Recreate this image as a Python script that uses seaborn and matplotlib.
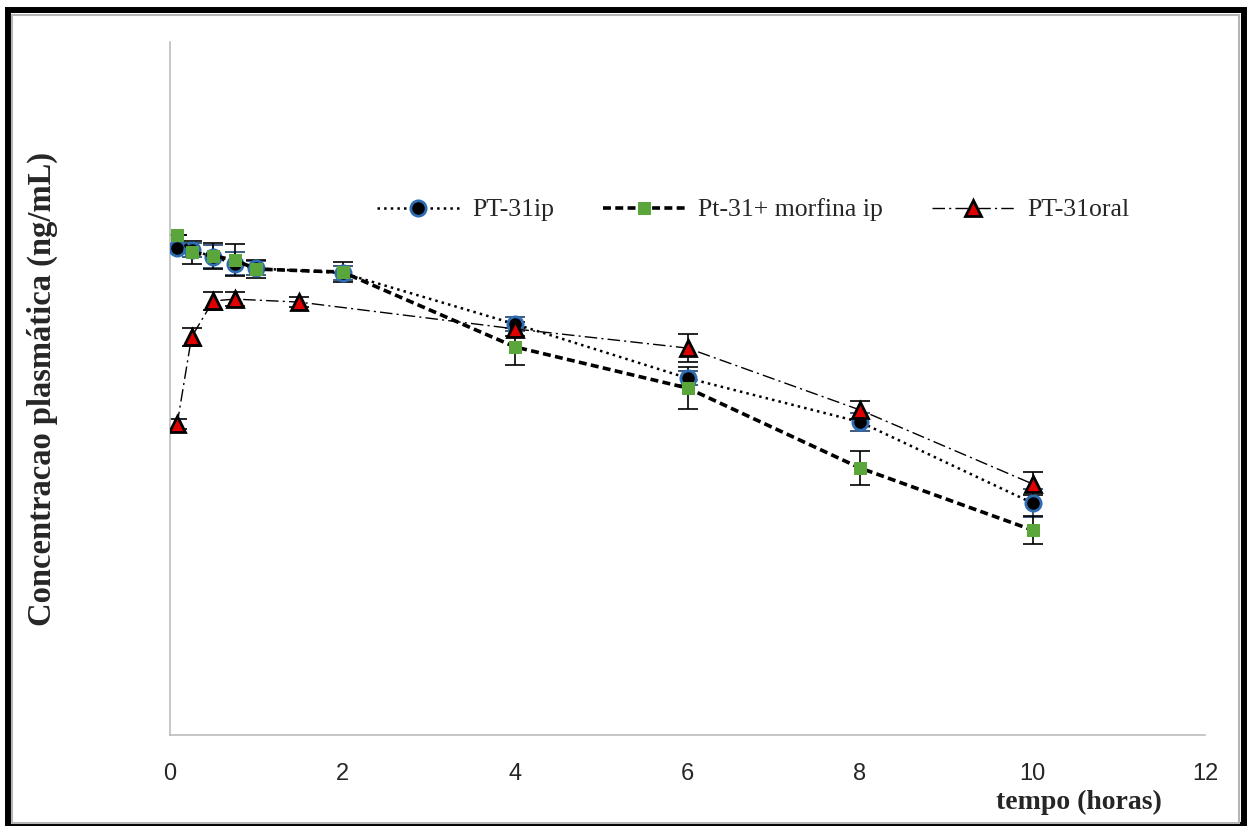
import matplotlib
matplotlib.use("Agg")
import matplotlib.pyplot as plt
import seaborn as sns
import pandas as pd
from matplotlib.patches import Rectangle

# tempo (horas) e concentracoes (escala sem rotulos)
t_ip = [0.083, 0.25, 0.5, 0.75, 1, 2, 4, 6, 8, 10]
c_ip = [2.108, 2.10, 2.07, 2.04, 2.02, 2.00, 1.779, 1.545, 1.355, 1.004]
sd_ip = [0.01, 0.03, 0.05, 0.05, 0.03, 0.03, 0.03, 0.03, 0.04, 0.06]

t_morf = [0.083, 0.25, 0.5, 0.75, 1, 2, 4, 6, 8, 10]
c_morf = [2.165, 2.09, 2.074, 2.056, 2.017, 2.004, 1.68, 1.502, 1.156, 0.887]
sd_morf = [0.0, 0.05, 0.055, 0.07, 0.04, 0.045, 0.08, 0.09, 0.075, 0.06]

t_oral = [0.083, 0.25, 0.5, 0.75, 1.5, 4, 6, 8, 10]
c_oral = [1.346, 1.723, 1.879, 1.887, 1.874, 1.758, 1.675, 1.407, 1.087]
sd_oral = [0.02, 0.04, 0.04, 0.03, 0.02, 0.03, 0.06, 0.04, 0.05]

labels = ["PT-31ip", "Pt-31+ morfina ip", "PT-31oral"]

sns.set_style("white")
plt.rcParams["font.family"] = ["Liberation Serif", "DejaVu Serif"]

fig = plt.figure(figsize=(12.47, 8.26), dpi=100)
ax = fig.add_axes([170 / 1247, 1 - 735 / 826, 1035 / 1247, 693 / 826])

df_ip = pd.DataFrame({"t": t_ip, "c": c_ip})
df_morf = pd.DataFrame({"t": t_morf, "c": c_morf})
df_oral = pd.DataFrame({"t": t_oral, "c": c_oral})

# error bars first
ax.errorbar(t_ip, c_ip, yerr=sd_ip, fmt="none", ecolor="#1d3f66", elinewidth=1.2, capsize=7, capthick=1.2, zorder=2)
ax.errorbar(t_morf, c_morf, yerr=sd_morf, fmt="none", ecolor="black", elinewidth=1.2, capsize=7, capthick=1.2, zorder=2)
ax.errorbar(t_oral, c_oral, yerr=sd_oral, fmt="none", ecolor="black", elinewidth=1.2, capsize=7, capthick=1.2, zorder=2)

sns.lineplot(data=df_ip, x="t", y="c", ax=ax, color="black", linestyle=":", linewidth=1.8,
             marker="o", markersize=11, markerfacecolor="black", markeredgecolor="#2e6db4",
             markeredgewidth=2, label=labels[0], zorder=3)
sns.lineplot(data=df_morf, x="t", y="c", ax=ax, color="black", dashes=False, linewidth=2.6,
             marker="s", markersize=8.5, markerfacecolor="#5aa63a", markeredgecolor="#5aa63a",
             label=labels[1], zorder=4)
sns.lineplot(data=df_oral, x="t", y="c", ax=ax, color="black", linewidth=1.0,
             marker="^", markersize=11.5, markerfacecolor="#e00000", markeredgecolor="black",
             markeredgewidth=2, label=labels[2], zorder=5)

for ln in ax.get_lines():
    if ln.get_label() == labels[1]:
        ln.set_linestyle((0, (2.2, 1.2)))
    elif ln.get_label() == labels[2]:
        ln.set_linestyle((0, (9, 3, 1.5, 3)))

ax.set_xlim(0, 12)
ax.set_ylim(0, 3)
ax.set_xticks(range(0, 13, 2))
ax.set_yticks([0, 1, 2, 3])
ax.set_yticklabels([])
ax.set_xlabel("")
ax.set_ylabel("")
for s in ["top", "right"]:
    ax.spines[s].set_visible(False)
for s in ["left", "bottom"]:
    ax.spines[s].set_color("#bdbdbd")
    ax.spines[s].set_linewidth(1.2)
ax.tick_params(axis="both", direction="out", length=7, width=1.2, color="#bdbdbd")
ax.tick_params(axis="x", pad=13, labelsize=17)
for lab in ax.get_xticklabels():
    lab.set_family(["Liberation Sans Narrow", "Liberation Sans", "DejaVu Sans"])

fig.text(1079 / 1247, 1 - 802 / 826, "tempo (horas)", ha="center", va="center",
         fontsize=20, fontweight="bold")
fig.text(42 / 1247, 1 - 389 / 826, "Concentracao plasmática (ng/mL)", ha="center", va="center",
         rotation=90, fontsize=23.5, fontweight="bold")

ax.legend(loc="center", bbox_to_anchor=(0.604, 1 - 210 / 826), bbox_transform=fig.transFigure,
          ncol=3, frameon=False, fontsize=18.5, handlelength=3.2, handletextpad=0.5,
          columnspacing=1.9)

# moldura externa
fig.patches.append(Rectangle((7.5 / 1247, 1 / 826), 1236.5 / 1247, 815 / 826, transform=fig.transFigure,
                             fill=False, edgecolor="black", linewidth=4.3))
fig.patches.append(Rectangle((11.5 / 1247, 3 / 826), 1227.5 / 1247, 808.5 / 826, transform=fig.transFigure,
                             fill=False, edgecolor="#b5b5b5", linewidth=1.5))

fig.savefig("out.png", dpi=100)
